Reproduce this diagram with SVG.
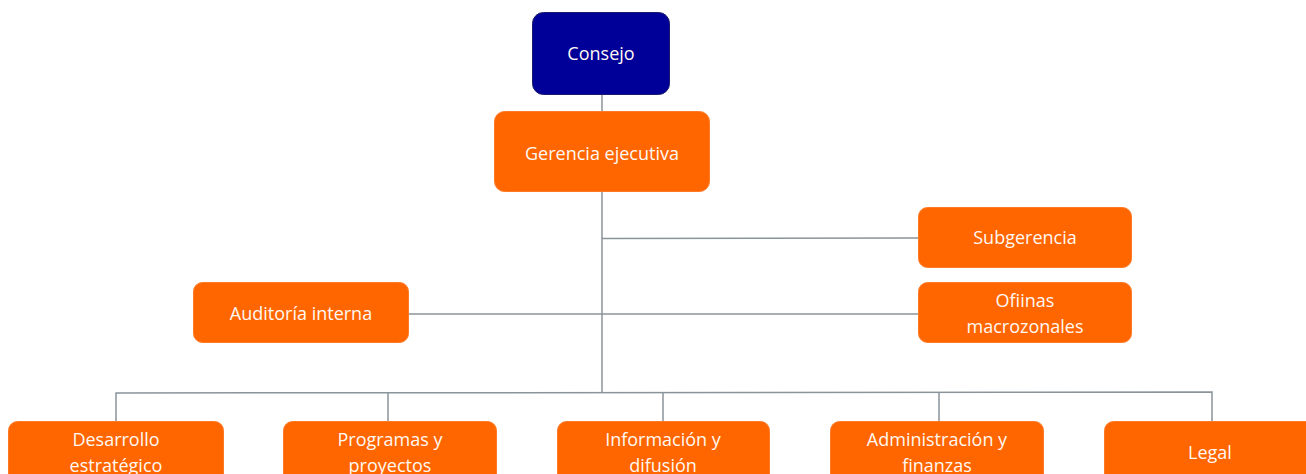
<svg xmlns="http://www.w3.org/2000/svg" width="1306" height="474" viewBox="0 0 1306 474">
  <style>
    .box { fill: #ff6600; stroke: #ff7a26; stroke-width: 1; }
    .top { fill: #000099; stroke: #1a1a6e; stroke-width: 1; }
    .lbl { font-family: "Open Sans", "Liberation Sans", sans-serif; font-size: 18px; font-weight: 500; fill: #fff8f2; text-anchor: middle; }
    .link { stroke: #8a949b; stroke-width: 1.5; fill: none; }
  </style>
  <rect width="1306" height="474" fill="#ffffff"/>

  <g id="connectors">
    <line class="link" x1="602" y1="95" x2="602" y2="111"/>
    <line class="link" x1="602" y1="192" x2="602" y2="392"/>
    <line class="link" x1="602" y1="238.5" x2="918" y2="238"/>
    <line class="link" x1="409" y1="314" x2="918" y2="314"/>
    <polyline class="link" points="116,421 116,393 1212,392 1212,421"/>
    <line class="link" x1="388" y1="393" x2="388" y2="421"/>
    <line class="link" x1="663" y1="392" x2="663" y2="421"/>
    <line class="link" x1="939" y1="392" x2="939" y2="421"/>
  </g>

  <g id="consejo">
    <rect class="top" x="532.5" y="12.5" width="137" height="82" rx="11"/>
    <text class="lbl" x="601" y="60">Consejo</text>
  </g>
  <g id="gerencia-ejecutiva">
    <rect class="box" x="494.5" y="111.5" width="215" height="80" rx="10"/>
    <text class="lbl" x="602" y="160">Gerencia ejecutiva</text>
  </g>
  <g id="subgerencia">
    <rect class="box" x="918.5" y="207.5" width="213" height="60" rx="9"/>
    <text class="lbl" x="1025" y="244">Subgerencia</text>
  </g>
  <g id="auditoria-interna">
    <rect class="box" x="193.5" y="282.5" width="215" height="60" rx="9"/>
    <text class="lbl" x="301" y="320">Auditoría interna</text>
  </g>
  <g id="oficinas-macrozonales">
    <rect class="box" x="918.5" y="282.5" width="213" height="60" rx="9"/>
    <text class="lbl" x="1025" y="307">Ofiinas</text>
    <text class="lbl" x="1025" y="333">macrozonales</text>
  </g>
  <g id="desarrollo-estrategico">
    <rect class="box" x="8.5" y="421.5" width="215" height="70" rx="9"/>
    <text class="lbl" x="116" y="446">Desarrollo</text>
    <text class="lbl" x="116" y="472">estratégico</text>
  </g>
  <g id="programas-proyectos">
    <rect class="box" x="283.5" y="421.5" width="213" height="70" rx="9"/>
    <text class="lbl" x="390" y="446">Programas y</text>
    <text class="lbl" x="390" y="472">proyectos</text>
  </g>
  <g id="informacion-difusion">
    <rect class="box" x="557.5" y="421.5" width="212" height="70" rx="9"/>
    <text class="lbl" x="663" y="446">Información y</text>
    <text class="lbl" x="663" y="472">difusión</text>
  </g>
  <g id="administracion-finanzas">
    <rect class="box" x="830.5" y="421.5" width="213" height="70" rx="9"/>
    <text class="lbl" x="937" y="446">Administración y</text>
    <text class="lbl" x="937" y="472">finanzas</text>
  </g>
  <g id="legal">
    <rect class="box" x="1104.5" y="421.5" width="213" height="70" rx="9"/>
    <text class="lbl" x="1210" y="459">Legal</text>
  </g>
</svg>
